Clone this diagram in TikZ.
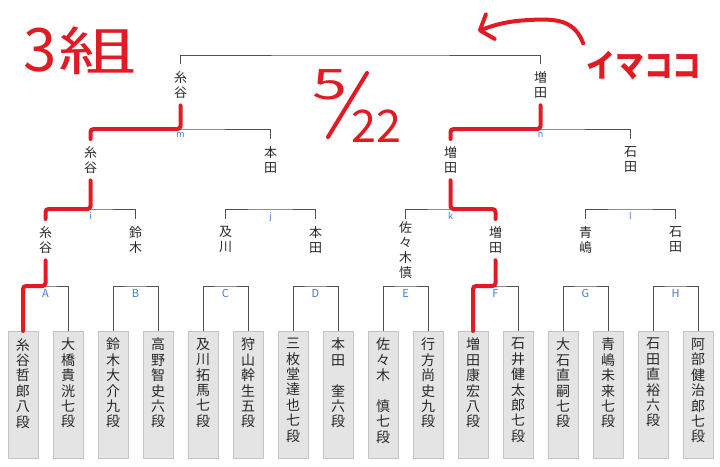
\documentclass[tikz,border=0pt]{standalone}
\usepackage{graphicx}
\usepackage{fontspec}
\setmainfont{Noto Sans CJK JP}
\usetikzlibrary{arrows.meta}

\definecolor{pen}{RGB}{226,26,36}
\definecolor{lbl}{RGB}{58,125,215}
\definecolor{ln}{RGB}{80,80,80}
\definecolor{boxfill}{RGB}{228,228,228}
\definecolor{boxline}{RGB}{196,196,196}
\definecolor{txt}{RGB}{40,40,40}

\newcommand{\tate}[1]{\parbox[t][113pt][t]{28pt}{\centering\fontsize{14}{15.4}\selectfont #1}}

\tikzset{
  pbox/.style={draw=boxline,fill=boxfill,anchor=north,inner xsep=1pt,inner ysep=7pt,
    minimum width=30pt,minimum height=127pt,text=txt},
  pname/.style={anchor=north,align=center,inner xsep=2pt,inner ysep=7pt,
    font=\fontsize{13}{15}\selectfont,text=txt},
  mlbl/.style={anchor=north,inner sep=3pt,text=lbl,font=\fontsize{11}{11}\selectfont},
  slbl/.style={mlbl,font=\fontsize{9}{9}\selectfont},
  bracket/.style={draw=ln,line width=0.9pt},
  win/.style={draw=pen,line width=4pt,line cap=round,rounded corners=3pt},
  hand/.style={text=pen,inner sep=0pt,font=\fontsize{#1}{#1}\selectfont},
}

\begin{document}
\begin{tikzpicture}[x=1pt,y=-1pt]
\useasboundingbox (0,0) rectangle (720,466);

\node[pbox] (p1) at (23,331) {\tate{糸\\谷\\哲\\郎\\八\\段}};
\node[pbox] (p2) at (68,331) {\tate{大\\橋\\貴\\洸\\七\\段}};
\node[pbox] (p3) at (113,331) {\tate{鈴\\木\\大\\介\\九\\段}};
\node[pbox] (p4) at (158,331) {\tate{高\\野\\智\\史\\六\\段}};
\node[pbox] (p5) at (203,331) {\tate{及\\川\\拓\\馬\\七\\段}};
\node[pbox] (p6) at (248,331) {\tate{狩\\山\\幹\\生\\五\\段}};
\node[pbox] (p7) at (293,331) {\tate{三\\枚\\堂\\達\\也\\七\\段}};
\node[pbox] (p8) at (338,331) {\tate{本\\田\\　\\奎\\六\\段}};
\node[pbox] (p9) at (383,331) {\tate{佐\\々\\木\\　\\慎\\七\\段}};
\node[pbox] (p10) at (428,331) {\tate{行\\方\\尚\\史\\九\\段}};
\node[pbox] (p11) at (473,331) {\tate{増\\田\\康\\宏\\八\\段}};
\node[pbox] (p12) at (518,331) {\tate{石\\井\\健\\太\\郎\\七\\段}};
\node[pbox] (p13) at (563,331) {\tate{大\\石\\直\\嗣\\七\\段}};
\node[pbox] (p14) at (608,331) {\tate{青\\嶋\\未\\来\\七\\段}};
\node[pbox] (p15) at (653,331) {\tate{石\\田\\直\\裕\\六\\段}};
\node[pbox] (p16) at (698,331) {\tate{阿\\部\\健\\治\\郎\\七\\段}};

\node[mlbl] (A) at (45.5,286) {A};
\node[mlbl] (B) at (135.5,286) {B};
\node[mlbl] (C) at (225.5,286) {C};
\node[mlbl] (D) at (315.5,286) {D};
\node[mlbl] (E) at (405.5,286) {E};
\node[mlbl] (F) at (495.5,286) {F};
\node[mlbl] (G) at (585.5,286) {G};
\node[mlbl] (H) at (675.5,286) {H};

\node[pname] (wA) at (45.5,219) {糸\\谷};
\node[pname] (wB) at (135.5,219) {鈴\\木};
\node[pname] (wC) at (225.5,219) {及\\川};
\node[pname] (wD) at (315.5,219) {本\\田};
\node[pname,inner ysep=2pt] (wE) at (405.5,219) {佐\\々\\木\\慎};
\node[pname] (wF) at (495.5,219) {増\\田};
\node[pname] (wG) at (585.5,219) {青\\嶋};
\node[pname] (wH) at (675.5,219) {石\\田};

\node[slbl] (i) at (90.5,209) {i};
\node[slbl] (j) at (270.5,209) {j};
\node[slbl] (k) at (450.5,209) {k};
\node[slbl] (l) at (630.5,209) {l};

\node[pname] (wi) at (90.5,139) {糸\\谷};
\node[pname] (wj) at (270.5,139) {本\\田};
\node[pname] (wk) at (450.5,139) {増\\田};
\node[pname] (wl) at (630.5,139) {石\\田};

\node[slbl] (m) at (180.5,129) {m};
\node[slbl] (n) at (540.5,129) {n};

\node[pname] (wm) at (180.5,64) {糸\\谷};
\node[pname] (wn) at (540.5,64) {増\\田};
\coordinate (final) at (360.5,55);

\foreach \a/\m/\b in {p1/A/p2,p3/B/p4,p5/C/p6,p7/D/p8,p9/E/p10,p11/F/p12,p13/G/p14,p15/H/p16,
  wA/i/wB,wC/j/wD,wE/k/wF,wG/l/wH,wi/m/wj,wk/n/wl}
  \draw[bracket] (\a.north) |- (\m.north) -| (\b.north);
\draw[bracket] (wm.north) |- (final) -| (wn.north);

\draw[win] (wm.south) -- (m.north) -| (wi.north);
\draw[win] (wi.south) -- (i.north) -| (wA.north);
\draw[win] (wA.south) -- (A.north) -| (p1.north);
\draw[win] (wn.south) -- (n.north) -| (wk.north);
\draw[win] (wk.south) -- (k.north) -| (wF.north);
\draw[win] (wF.south) -- (F.north) -| (p11.north);

\node[hand=60] (three) at (40,50) {3};
\node[hand=52] (kumi) at (97.5,51) {\scalebox{1.5}[1]{組}};
\node[hand=42] (five) at (330,85) {\scalebox{1.5}[1]{5}};
\node[hand=45] (twentytwo) at (376.5,126) {22};
\draw[draw=pen,line width=4pt,line cap=round] (328,137) -- (367,73);
\node[hand=32] (imakoko) at (644,66) {\bfseries\scalebox{0.9}[1]{イマココ}};
\coordinate (here) at (478,31);
\draw[draw=pen,line width=4pt,line cap=round,-{Straight Barb[length=11pt,width=26pt,round]}]
  ([shift={(-3,-8)}]imakoko.north west) .. controls (575,22) and (560,18) .. (530,20)
  .. controls (505,21) and (492,26) .. (here);
\end{tikzpicture}
\end{document}
